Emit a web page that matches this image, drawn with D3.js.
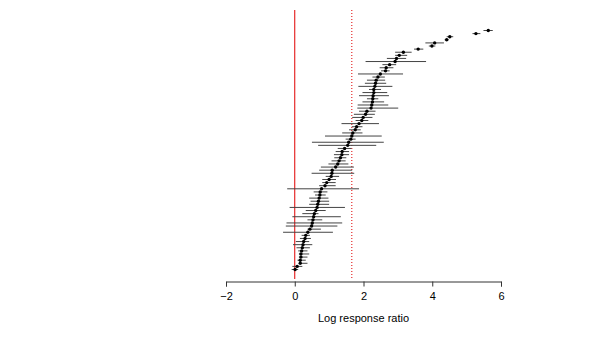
<!DOCTYPE html>
<html>
<head>
<meta charset="utf-8">
<script src="https://cdn.jsdelivr.net/npm/d3@7"></script>
<style>
	body { margin: 0; background: #fff; }
	text { font-family: "Liberation Sans", Arial, sans-serif; }
</style>
</head>
<body>
<svg id="chart"></svg>
<script>
// effect sizes, sorted from top to bottom
const estimate = [5.63, 5.27, 4.51, 4.42, 4.07, 3.99, 3.59, 3.16, 3.04, 2.96,
	2.92, 2.76, 2.66, 2.64, 2.49, 2.42, 2.37, 2.35, 2.33, 2.30,
	2.30, 2.28, 2.27, 2.26, 2.24, 2.22, 2.10, 2.06, 1.99, 1.95,
	1.87, 1.80, 1.76, 1.69, 1.66, 1.63, 1.57, 1.54, 1.45, 1.38,
	1.37, 1.33, 1.29, 1.25, 1.19, 1.09, 1.08, 1.06, 1.00, 0.93,
	0.88, 0.78, 0.74, 0.73, 0.71, 0.69, 0.67, 0.65, 0.61, 0.57,
	0.55, 0.53, 0.51, 0.49, 0.44, 0.38, 0.32, 0.30, 0.26, 0.24,
	0.22, 0.20, 0.18, 0.18, 0.16, 0.16, 0.07, 0.01];
const lower = [5.49, 5.17, 4.42, 4.36, 3.80, 3.90, 3.47, 2.92, 2.92, 2.68,
	2.06, 2.55, 2.47, 2.51, 1.84, 2.26, 2.10, 2.04, 1.85, 2.16,
	1.97, 1.87, 2.10, 1.97, 1.83, 1.82, 1.87, 1.72, 1.67, 1.77,
	1.36, 1.66, 1.58, 1.38, 0.88, 1.48, 0.50, 0.68, 1.25, 1.19,
	1.14, 1.15, 1.07, 0.98, 0.76, 0.71, 0.49, 0.90, 0.80, 0.80,
	0.71, -0.22, 0.55, 0.59, 0.42, 0.46, 0.42, -0.15, 0.32, 0.22,
	-0.07, 0.37, -0.24, -0.26, 0.37, -0.34, 0.20, 0.15, 0.03, -0.05,
	0.05, 0.10, 0.12, 0.12, 0.08, 0.12, -0.07, -0.09];
const upper = [5.76, 5.40, 4.61, 4.48, 4.34, 4.09, 3.74, 3.40, 3.27, 3.24,
	3.82, 2.95, 2.87, 2.76, 3.15, 2.62, 2.63, 2.66, 2.84, 2.51,
	2.69, 2.74, 2.43, 2.60, 2.72, 3.01, 2.35, 2.33, 2.26, 2.14,
	2.45, 1.97, 1.92, 1.97, 2.53, 1.77, 2.59, 2.37, 1.65, 1.58,
	1.58, 1.50, 1.48, 1.56, 1.72, 1.67, 1.73, 1.29, 1.20, 1.19,
	1.19, 1.87, 0.95, 0.90, 0.98, 1.00, 1.00, 1.46, 0.90, 0.69,
	1.34, 0.80, 1.38, 1.24, 0.76, 1.11, 0.44, 0.47, 0.42, 0.51,
	0.44, 0.37, 0.42, 0.37, 0.32, 0.37, 0.22, 0.10];
const xTicks = [-2, 0, 2, 4, 6];
const meanEffect = 1.66;

const width = 600;
const height = 339;

const svg = d3.select("#chart").attr("width", width).attr("height", height);

// scales
const x = d3.scaleLinear().domain([-2, 6]).range([226, 501]);
const y = d3.scalePoint().domain(d3.range(estimate.length)).range([30, 269]);

// reference lines: zero and mean effect
svg.append("line")
	.attr("x1", x(0)).attr("x2", x(0))
	.attr("y1", 10).attr("y2", 279)
	.attr("stroke", "#e00000").attr("stroke-width", 1);
svg.append("line")
	.attr("x1", x(meanEffect)).attr("x2", x(meanEffect))
	.attr("y1", 10).attr("y2", 279)
	.attr("stroke", "#e00000").attr("stroke-width", 1)
	.attr("stroke-dasharray", "1,2");

// confidence intervals
const rows = estimate.map((d, i) => ({ i: i, est: d, lo: lower[i], hi: upper[i] }));
svg.selectAll("line.ci").data(rows).enter()
	.append("line")
	.attr("class", "ci")
	.attr("x1", d => x(d.lo)).attr("x2", d => x(d.hi))
	.attr("y1", d => y(d.i) + 0.5).attr("y2", d => y(d.i) + 0.5)
	.attr("stroke", "#444").attr("stroke-width", 1);

// point estimates
svg.selectAll("circle").data(rows).enter()
	.append("circle")
	.attr("cx", d => x(d.est))
	.attr("cy", d => y(d.i) + 0.5)
	.attr("r", 1.7)
	.attr("fill", "#000");

// x axis
const axis = svg.append("g")
	.attr("transform", "translate(0,281.5)")
	.call(d3.axisBottom(x).tickValues(xTicks).tickSize(5).tickPadding(6).tickFormat(d3.format("d")));
axis.select(".domain").attr("stroke", "#333");
axis.selectAll(".tick line").attr("stroke", "#333");
axis.selectAll(".tick text").attr("font-size", "11px").attr("fill", "#000");

svg.append("text")
	.attr("x", x(2))
	.attr("y", 322)
	.attr("text-anchor", "middle")
	.attr("font-size", "11px")
	.text("Log response ratio");
</script>
</body>
</html>
